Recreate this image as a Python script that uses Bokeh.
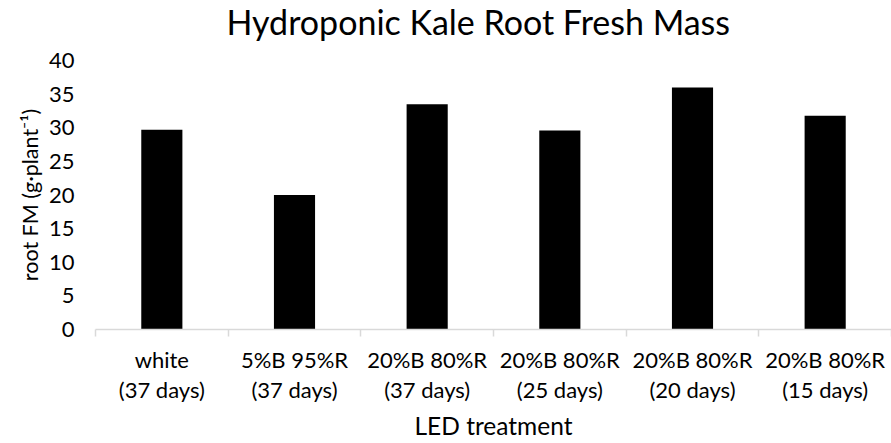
from bokeh.plotting import figure
from bokeh.models import FixedTicker, Range1d, Title
from bokeh.embed import file_html
from bokeh.resources import INLINE

# ---- data ----
treatments = [
    "white\n(37 days)",
    "5%B 95%R\n(37 days)",
    "20%B 80%R\n(37 days)",
    "20%B 80%R\n(25 days)",
    "20%B 80%R\n(20 days)",
    "20%B 80%R\n(15 days)",
]
root_fm = [29.7, 20.0, 33.5, 29.6, 36.0, 31.8]
y_ticks = [0, 5, 10, 15, 20, 25, 30, 35, 40]
title_text = "Hydroponic Kale Root Fresh Mass"
x_title = "LED treatment"
y_title = "root FM (g\u00b7plant\u207b\u00b9)"

FONT = "Lato"
n = len(treatments)
xs = list(range(n))

p = figure(
    width=891, height=443,
    output_backend="svg", toolbar_location=None,
    x_range=Range1d(-0.5, n - 0.5), y_range=Range1d(0, 40),
    min_border_left=95, min_border_right=0, min_border_top=59, min_border_bottom=114,
)
p.vbar(x=xs, top=root_fm, width=0.31, bottom=0, fill_color="black", line_color=None)

# spacer between title and plot area, then the title itself
p.add_layout(Title(text=" ", text_font=FONT, text_font_size="12px", standoff=0), "above")
p.add_layout(Title(
    text=title_text, text_font=FONT, text_font_size="34px", text_font_style="normal",
    text_color="black", align="left", offset=131, vertical_align="top", standoff=0,
), "above")

p.grid.grid_line_color = None
p.outline_line_color = None
p.background_fill_color = "white"
p.border_fill_color = "white"

# x axis
xa = p.xaxis[0]
xa.ticker = FixedTicker(ticks=xs, minor_ticks=[i - 0.5 for i in range(n + 1)])
xa.major_label_overrides = {i: t for i, t in enumerate(treatments)}
xa.axis_line_color = "#d9d9d9"
xa.axis_line_width = 1.5
xa.major_tick_line_color = None
xa.minor_tick_line_color = "#d9d9d9"
xa.minor_tick_line_width = 1.5
xa.minor_tick_in = 0
xa.minor_tick_out = 7
xa.major_label_text_font = FONT
xa.major_label_text_font_size = "22px"
xa.major_label_text_color = "black"
xa.major_label_text_line_height = 1.14
xa.major_label_standoff = 9
xa.axis_label = x_title
xa.axis_label_text_font = FONT
xa.axis_label_text_font_size = "24.5px"
xa.axis_label_text_font_style = "normal"
xa.axis_label_text_color = "black"
xa.axis_label_standoff = 5

# y axis
ya = p.yaxis[0]
ya.ticker = FixedTicker(ticks=y_ticks)
ya.axis_line_color = None
ya.major_tick_line_color = None
ya.minor_tick_line_color = None
ya.major_label_text_font = FONT
ya.major_label_text_font_size = "22px"
ya.major_label_text_color = "black"
ya.major_label_standoff = 15
ya.axis_label = y_title
ya.axis_label_text_font = FONT
ya.axis_label_text_font_size = "21.5px"
ya.axis_label_text_font_style = "normal"
ya.axis_label_text_color = "black"
ya.axis_label_standoff = 3

open("out.html", "w").write(file_html(p, INLINE))
